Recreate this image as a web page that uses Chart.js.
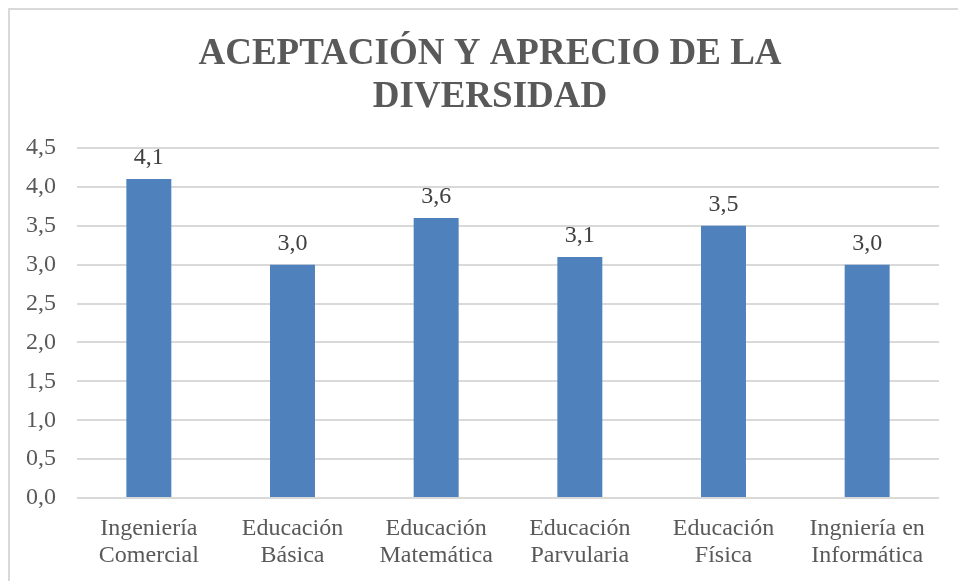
<!DOCTYPE html>
<html>
<head>
<meta charset="utf-8">
<script src="https://cdn.jsdelivr.net/npm/chart.js@4"></script>
<style>
  html, body { margin: 0; padding: 0; background: #fff; }
  #wrap { width: 958px; height: 581px; position: relative; }
</style>
</head>
<body>
<div id="wrap"><canvas id="c" width="958" height="581"></canvas></div>
<script>
const titleLines = ['ACEPTACIÓN Y APRECIO DE LA', 'DIVERSIDAD'];
const categories = [
  ['Ingeniería', 'Comercial'],
  ['Educación', 'Básica'],
  ['Educación', 'Matemática'],
  ['Educación', 'Parvularia'],
  ['Educación', 'Física'],
  ['Ingniería en', 'Informática']
];
const values = [4.1, 3.0, 3.6, 3.1, 3.5, 3.0];
const yMin = 0, yMax = 4.5, yStep = 0.5;

const fmt = v => Number(v).toFixed(1).replace('.', ',');
const FONT = "'Liberation Serif', 'Times New Roman', serif";
const GRAY = '#595959';

const frame = {
  id: 'frame',
  beforeDraw(chart) {
    const ctx = chart.ctx;
    ctx.save();
    ctx.fillStyle = '#fff';
    ctx.fillRect(0, 0, chart.width, chart.height);
    ctx.strokeStyle = '#d9d9d9';
    ctx.lineWidth = 2;
    ctx.beginPath();
    ctx.moveTo(9, chart.height);
    ctx.lineTo(9, 9);
    ctx.lineTo(chart.width, 9);
    ctx.stroke();
    ctx.restore();
  }
};

const titlePlugin = {
  id: 'chartTitle',
  afterDraw(chart) {
    const ctx = chart.ctx;
    ctx.save();
    ctx.font = 'bold 37px ' + FONT;
    ctx.fillStyle = GRAY;
    ctx.textAlign = 'center';
    ctx.textBaseline = 'alphabetic';
    titleLines.forEach((line, i) => {
      ctx.fillText(line, 490, 64 + i * 43);
    });
    ctx.restore();
  }
};

const labelsPlugin = {
  id: 'valueLabels',
  afterDatasetsDraw(chart) {
    const ctx = chart.ctx;
    const meta = chart.getDatasetMeta(0);
    ctx.save();
    ctx.font = '24px ' + FONT;
    ctx.fillStyle = '#404040';
    ctx.textAlign = 'center';
    ctx.textBaseline = 'middle';
    meta.data.forEach((bar, i) => {
      ctx.fillText(fmt(values[i]), bar.x, bar.y - 21);
    });
    ctx.restore();
  }
};

new Chart(document.getElementById('c'), {
  type: 'bar',
  data: {
    labels: categories,
    datasets: [{
      data: values,
      backgroundColor: '#4F81BD',
      borderWidth: 0,
      barPercentage: 0.313,
      categoryPercentage: 1.0
    }]
  },
  options: {
    responsive: false,
    animation: false,
    layout: { padding: { top: 148, left: 25, right: 19, bottom: 14 } },
    plugins: {
      legend: { display: false },
      tooltip: { enabled: false },
      title: { display: false }
    },
    scales: {
      x: {
        grid: { display: false, drawTicks: false },
        border: { display: false },
        afterFit(s) { s.height = 69; s.paddingLeft = 0; s.paddingRight = 0; },
        ticks: {
          color: GRAY,
          font: { family: FONT, size: 24, lineHeight: 1.1 },
          padding: 18,
          maxRotation: 0,
          autoSkip: false
        }
      },
      y: {
        min: yMin,
        max: yMax,
        grid: { color: '#d9d9d9', lineWidth: 2, drawTicks: false },
        border: { display: false },
        afterFit(s) { s.width = 52; s.paddingTop = 0; s.paddingBottom = 0; },
        ticks: {
          stepSize: yStep,
          color: GRAY,
          font: { family: FONT, size: 24 },
          padding: 21,
          callback: v => fmt(v)
        }
      }
    }
  },
  plugins: [frame, titlePlugin, labelsPlugin]
});
</script>
</body>
</html>
